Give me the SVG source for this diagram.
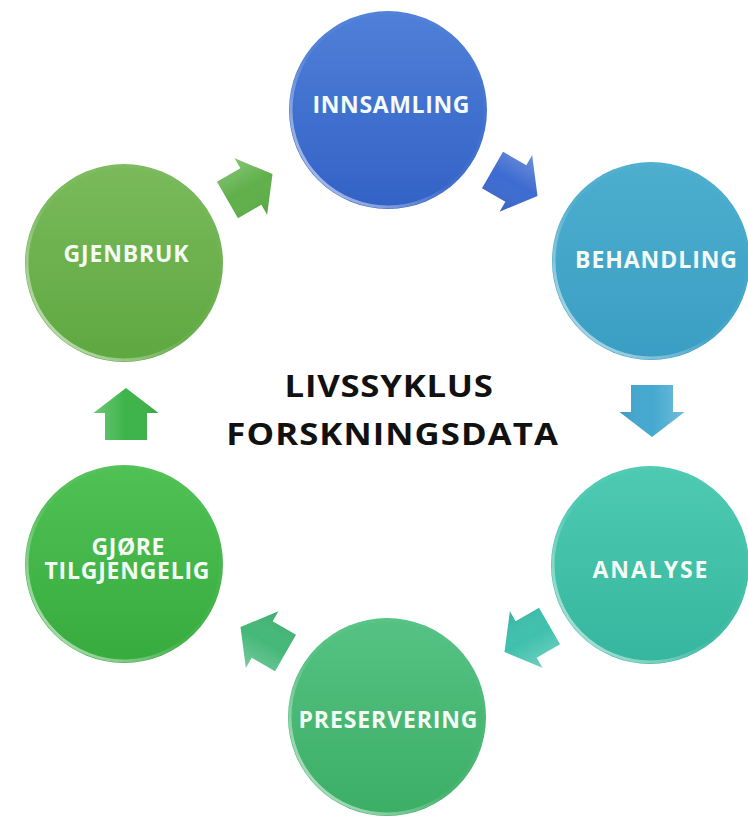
<svg xmlns="http://www.w3.org/2000/svg" xmlns:xlink="http://www.w3.org/1999/xlink" width="748" height="816" viewBox="0 0 748 816">
<style>
.lbl{font-family:"Open Sans","Liberation Sans",sans-serif;font-weight:700;font-size:23px;fill:#f4fbf4;text-anchor:middle}
.title{font-family:"Open Sans","Liberation Sans",sans-serif;font-weight:700;font-size:31px;fill:#111;text-anchor:middle}
.rim{fill:none;stroke:url(#rimG);stroke-width:3}
</style>
<defs>
<linearGradient id="g1" x1="0" y1="0" x2="0" y2="1"><stop offset="0" stop-color="#4f80d8"/><stop offset="1" stop-color="#3362c6"/></linearGradient>
<linearGradient id="g2" x1="0" y1="0" x2="0" y2="1"><stop offset="0" stop-color="#4daece"/><stop offset="1" stop-color="#3a9ec4"/></linearGradient>
<linearGradient id="g3" x1="0" y1="0" x2="0" y2="1"><stop offset="0" stop-color="#4ecab2"/><stop offset="1" stop-color="#36b69e"/></linearGradient>
<linearGradient id="g4" x1="0" y1="0" x2="0" y2="1"><stop offset="0" stop-color="#55c283"/><stop offset="1" stop-color="#3cae66"/></linearGradient>
<linearGradient id="g5" x1="0" y1="0" x2="0" y2="1"><stop offset="0" stop-color="#50c155"/><stop offset="1" stop-color="#37ab3e"/></linearGradient>
<linearGradient id="g6" x1="0" y1="0" x2="0" y2="1"><stop offset="0" stop-color="#7aba5c"/><stop offset="1" stop-color="#5ea840"/></linearGradient>
<linearGradient id="rimG" x1="1" y1="0" x2="0" y2="1"><stop offset="0" stop-color="#fff" stop-opacity="0"/><stop offset="0.55" stop-color="#fff" stop-opacity="0.05"/><stop offset="1" stop-color="#fff" stop-opacity="0.75"/></linearGradient>
<linearGradient id="arrShade" x1="0" y1="0" x2="0" y2="1"><stop offset="0" stop-color="#fff" stop-opacity="0.25"/><stop offset="0.5" stop-color="#fff" stop-opacity="0"/><stop offset="1" stop-color="#000" stop-opacity="0.08"/></linearGradient>
<path id="arr" d="M-26,-21 L1,-21 L1,-32.5 L26,0 L1,32.5 L1,21 L-26,21 Z"/>
</defs>

<g id="connectors">
<g transform="translate(515,183) rotate(30)"><use xlink:href="#arr" fill="#3d6bd0"/><use xlink:href="#arr" fill="url(#arrShade)"/></g>
<g transform="translate(652,411) rotate(90)"><use xlink:href="#arr" fill="#44a8cf"/><use xlink:href="#arr" fill="url(#arrShade)"/></g>
<g transform="translate(527,639) rotate(150)"><use xlink:href="#arr" fill="#3fc0ad"/><use xlink:href="#arr" fill="url(#arrShade)"/></g>
<g transform="translate(263,640) rotate(210)"><use xlink:href="#arr" fill="#45b878"/><use xlink:href="#arr" fill="url(#arrShade)"/></g>
<g transform="translate(126,414) rotate(270)"><use xlink:href="#arr" fill="#3db449"/><use xlink:href="#arr" fill="url(#arrShade)"/></g>
<g transform="translate(250,187) rotate(330)"><use xlink:href="#arr" fill="#5fb04a"/><use xlink:href="#arr" fill="url(#arrShade)"/></g>
</g>

<g id="innsamling">
<circle cx="388" cy="110" r="99" fill="url(#g1)"/>
<circle class="rim" cx="388" cy="110" r="97"/>
<text class="lbl" x="391" y="113" textLength="157" lengthAdjust="spacing">INNSAMLING</text>
</g>
<g id="behandling">
<circle cx="651" cy="261" r="99" fill="url(#g2)"/>
<circle class="rim" cx="651" cy="261" r="97"/>
<text class="lbl" x="656" y="268" textLength="162" lengthAdjust="spacing">BEHANDLING</text>
</g>
<g id="analyse">
<circle cx="650" cy="565" r="99" fill="url(#g3)"/>
<circle class="rim" cx="650" cy="565" r="97"/>
<text class="lbl" x="650" y="578" textLength="115" lengthAdjust="spacing">ANALYSE</text>
</g>
<g id="preservering">
<circle cx="387" cy="717" r="99" fill="url(#g4)"/>
<circle class="rim" cx="387" cy="717" r="97"/>
<text class="lbl" x="388" y="728" textLength="179" lengthAdjust="spacing">PRESERVERING</text>
</g>
<g id="gjore-tilgjengelig">
<circle cx="124" cy="564" r="99" fill="url(#g5)"/>
<circle class="rim" cx="124" cy="564" r="97"/>
<text class="lbl" x="128" y="555" textLength="73" lengthAdjust="spacing">GJØRE</text>
<text class="lbl" x="127" y="579" textLength="165" lengthAdjust="spacing">TILGJENGELIG</text>
</g>
<g id="gjenbruk">
<circle cx="124" cy="263" r="99" fill="url(#g6)"/>
<circle class="rim" cx="124" cy="263" r="97"/>
<text class="lbl" x="126" y="262" textLength="125" lengthAdjust="spacing">GJENBRUK</text>
</g>
<g id="title" transform="translate(391,0) scale(1.12,1) translate(-391,0)">
<text class="title" x="389" y="397" textLength="186" lengthAdjust="spacing">LIVSSYKLUS</text>
<text class="title" x="392" y="445" textLength="296" lengthAdjust="spacing">FORSKNINGSDATA</text>
</g>
</svg>
